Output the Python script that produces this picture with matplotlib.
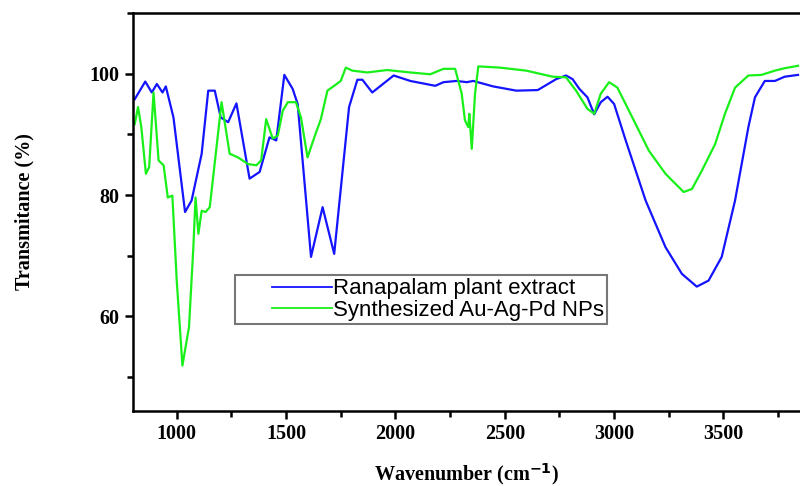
import matplotlib
matplotlib.use("Agg")
import numpy as np
import matplotlib.pyplot as plt
from matplotlib.ticker import MultipleLocator
from matplotlib.legend_handler import HandlerLine2D

# Ranapalam plant extract (blue)
plant_wn = [808, 856, 886, 909, 935, 950, 985, 1038, 1068, 1114, 1144, 1174, 1201, 1235,
            1273, 1333, 1379, 1424, 1455, 1492, 1530, 1553, 1614, 1667, 1720, 1788, 1826,
            1849, 1894, 1992, 2068, 2182, 2220, 2280, 2326, 2356, 2447, 2553, 2651, 2735,
            2780, 2810, 2841, 2878, 2909, 2939, 2970, 3000, 3053, 3144, 3235, 3310, 3378,
            3432, 3492, 3553, 3614, 3644, 3689, 3735, 3780, 3841]
plant_T = [95.8, 98.7, 96.9, 98.3, 96.9, 97.9, 92.8, 77.2, 79.1, 86.8, 97.2, 97.2, 92.8, 92.0,
           95.1, 82.7, 83.8, 89.5, 89.0, 99.8, 97.5, 95.0, 69.8, 78.0, 70.3, 94.5, 99.0,
           99.0, 96.9, 99.7, 98.8, 98.0, 98.6, 98.8, 98.6, 98.8, 97.9, 97.2, 97.3, 99.1,
           99.7, 99.1, 97.5, 96.1, 93.3, 95.3, 96.2, 95.0, 89.0, 79.1, 71.4, 67.0, 64.9,
           65.9, 69.8, 79.1, 91.2, 96.1, 98.8, 98.8, 99.5, 99.8]

# Synthesized Au-Ag-Pd NPs (green)
nps_wn = [808, 823, 838, 859, 874, 894, 917, 940, 959, 980, 1000, 1026, 1056, 1076, 1086,
          1099, 1114, 1132, 1151, 1205, 1242, 1280, 1326, 1364, 1386, 1409, 1439, 1462,
          1485, 1508, 1545, 1568, 1598, 1629, 1659, 1689, 1720, 1750, 1773, 1803, 1871,
          1962, 2068, 2159, 2220, 2273, 2303, 2318, 2333, 2338, 2349, 2364, 2379, 2477,
          2598, 2719, 2780, 2826, 2878, 2909, 2939, 2977, 3015, 3083, 3159, 3235, 3265,
          3318, 3356, 3401, 3462, 3507, 3553, 3614, 3674, 3735, 3780, 3841]
nps_T = [91.7, 94.5, 91.2, 83.5, 84.6, 96.9, 85.7, 84.9, 79.6, 79.9, 65.9, 51.9, 58.2, 71.4,
         79.6, 73.6, 77.4, 77.2, 78.0, 95.3, 86.8, 86.2, 85.1, 84.9, 85.7, 92.5, 89.3, 89.8,
         93.9, 95.3, 95.3, 92.8, 86.2, 89.5, 92.5, 97.2, 98.0, 98.8, 101.0, 100.5, 100.2,
         100.6, 100.2, 99.9, 100.8, 100.8, 96.7, 92.3, 91.2, 93.4, 87.6, 96.7, 101.2, 101.0,
         100.5, 99.5, 99.4, 97.2, 94.2, 93.4, 96.7, 98.6, 97.7, 92.8, 87.3, 83.5, 82.4,
         80.5, 81.0, 84.0, 88.4, 93.4, 97.7, 99.7, 99.8, 100.5, 100.9, 101.3]

labels = ["Ranapalam plant extract", "Synthesized Au-Ag-Pd NPs"]
x_ticks = [1000, 1500, 2000, 2500, 3000, 3500]
y_ticks = [60, 80, 100]


class IndentedLine(HandlerLine2D):
    """Legend line drawn only in the right part of the handle box (Origin style)."""
    def create_artists(self, legend, orig_handle, xdescent, ydescent, width, height,
                       fontsize, trans):
        arts = super().create_artists(legend, orig_handle, xdescent, ydescent, width,
                                      height, fontsize, trans)
        for a in arts:
            xd = np.asarray(a.get_xdata(), dtype=float)
            yd = np.asarray(a.get_ydata(), dtype=float)
            if len(xd) > 1:
                x0 = xd[0] + 0.36 * (xd[-1] - xd[0])
                a.set_data(np.linspace(x0, xd[-1], len(yd)), yd)
                a.set_linewidth(1.3)
        return arts


fig = plt.figure(figsize=(8, 4.86), dpi=100)
ax = fig.add_axes([133/800, 1 - 411/486, 667/800, 398/486])

l1, = ax.plot(plant_wn, plant_T, color="#1414ff", lw=1.6, label=labels[0])
l2, = ax.plot(nps_wn, nps_T, color="#19f019", lw=1.6, label=labels[1])

ax.set_xlim(800, 3850)
ax.set_ylim(44.4, 110)
ax.set_xticks(x_ticks)
ax.set_yticks(y_ticks)
ax.xaxis.set_minor_locator(MultipleLocator(250))
ax.yaxis.set_minor_locator(MultipleLocator(10))

ax.spines["right"].set_visible(False)
for s in ["left", "bottom", "top"]:
    ax.spines[s].set_linewidth(1.8)
ax.tick_params(which="major", direction="out", length=6, width=1.8, top=False, right=False)
ax.tick_params(which="minor", direction="out", length=4, width=1.8, top=False, right=False)

for lab in ax.get_xticklabels() + ax.get_yticklabels():
    lab.set_fontfamily("Liberation Serif")
    lab.set_fontweight("bold")
    lab.set_fontsize(14.5)

ax.set_xlabel("Wavenumber (cm$^{\\mathbf{-1}}$)", fontfamily="Liberation Serif",
              fontweight="bold", fontsize=14.5)
ax.set_ylabel("Transmitance (%)", fontfamily="Liberation Serif", fontweight="bold",
              fontsize=14.5)
ax.xaxis.set_label_coords(0.5, -0.125)
ax.yaxis.set_label_coords(-0.148, 0.5)

leg = ax.legend(handles=[l1, l2], loc="upper left",
                bbox_to_anchor=((235 - 133) / 667, (411 - 275) / 398),
                borderaxespad=0, frameon=True, fancybox=False, edgecolor="#555555",
                prop=dict(family="Liberation Sans", size=16), handlelength=4.2,
                handletextpad=0.05, borderpad=0.15, labelspacing=0.02,
                handler_map={l1: IndentedLine(), l2: IndentedLine()})
leg.get_frame().set_linewidth(1.5)

fig.savefig("out.png", dpi=100)
